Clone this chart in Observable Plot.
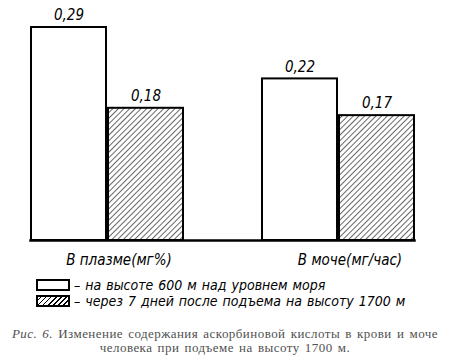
<!DOCTYPE html>
<html><head><meta charset="utf-8">
<script src="https://cdn.jsdelivr.net/npm/d3@7"></script>
<script src="https://cdn.jsdelivr.net/npm/@observablehq/plot@0.6"></script>
<style>
body{margin:0;background:#fff;width:450px;height:364px;overflow:hidden;}
#legend{position:absolute;left:36px;top:277px;font-family:"DejaVu Sans Condensed","DejaVu Sans",sans-serif;font-style:italic;font-size:14px;word-spacing:1px;color:#000;}
.row{display:flex;align-items:center;height:15px;margin-bottom:1px;}
.sw{display:inline-block;width:30px;height:8px;border:2px solid #000;margin-right:4px;background:#fff;}
.sw.h{background:repeating-linear-gradient(-45deg,#fff 0px,#fff 2.6px,#000 2.6px,#000 3.6px);}
#caption{position:absolute;left:0;top:327px;width:450px;text-align:center;font-family:"Liberation Serif","DejaVu Serif",serif;font-size:13px;color:#505050;line-height:14px;letter-spacing:0.45px;word-spacing:1.5px;}
#caption i{font-style:italic;}
</style></head><body>
<div id="chart"></div>
<div id="legend"></div>
<div id="caption"></div>
<script>
const categories = ["В плазме(мг%)", "В моче(мг/час)"];
const seriesNames = ["на высоте 600 м над уровнем моря", "через 7 дней после подъема на высоту 1700 м"];
const seaLevel = [0.29, 0.22];
const afterClimb = [0.18, 0.17];
const captionLabel = "Рис. 6.";
const captionLine1 = "Изменение содержания аскорбиновой кислоты в крови и моче";
const captionLine2 = "человека при подъеме на высоту 1700 м.";

const data = categories.flatMap((c, i) => [
  {cat: c, series: seriesNames[0], value: seaLevel[i]},
  {cat: c, series: seriesNames[1], value: afterClimb[i]}
]);
const fmt = v => v.toFixed(2).replace(".", ",");
const font = '"DejaVu Sans Condensed","DejaVu Sans",sans-serif';

const plot = Plot.plot({
  width: 450, height: 272,
  marginLeft: 13, marginRight: 13, marginTop: 27, marginBottom: 32,
  style: {fontFamily: font, fontStyle: "italic", fontSize: "15px", color: "#000", background: "#fff"},
  fx: {domain: categories, insetLeft: 16, insetRight: 22, paddingInner: 0.336, paddingOuter: 0, label: null},
  x: {domain: seriesNames, paddingInner: 0.03, paddingOuter: 0, axis: null},
  y: {domain: [0, 0.29], axis: null},
  color: {domain: seriesNames, range: ["#fff", "url(#hatch)"]},
  marks: [
    Plot.barY(data, {fx: "cat", x: "series", y: "value", fill: "series", stroke: "#000", strokeWidth: 2}),
    Plot.text(data, {fx: "cat", x: "series", y: "value", text: d => fmt(d.value), dy: -12, fontSize: 15}),
    Plot.frame({anchor: "bottom", facet: "super", strokeWidth: 2.5}),
    Plot.axisFx({anchor: "bottom", tickSize: 0, tickPadding: 14, dx: 12, fontSize: 15, label: null})
  ]
});

const svg = d3.select(plot);
const pat = svg.insert("defs", ":first-child").append("pattern")
  .attr("id", "hatch").attr("patternUnits", "userSpaceOnUse")
  .attr("width", 4).attr("height", 4).attr("patternTransform", "rotate(45)");
pat.append("rect").attr("width", 4).attr("height", 4).attr("fill", "#fff");
pat.append("line").attr("x1", 0).attr("y1", 0).attr("x2", 0).attr("y2", 4)
  .attr("stroke", "#000").attr("stroke-width", 1.2);

document.getElementById("chart").append(plot);

const legend = d3.select("#legend");
seriesNames.forEach((s, i) => {
  const row = legend.append("div").attr("class", "row");
  row.append("span").attr("class", i === 0 ? "sw" : "sw h");
  row.append("span").text("– " + s);
});

const cap = d3.select("#caption");
cap.append("i").text(captionLabel);
cap.append("span").text(" " + captionLine1);
cap.append("br");
cap.append("span").text(captionLine2);
</script>
</body></html>
